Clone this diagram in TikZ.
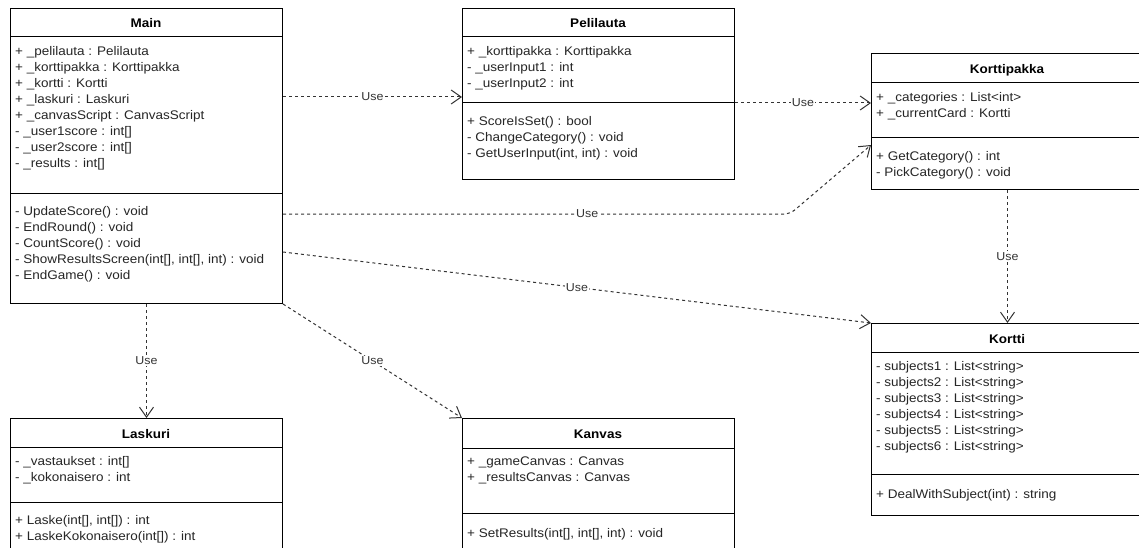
\documentclass[tikz,border=0pt]{standalone}
\usepackage{fontspec}
\setmainfont{Liberation Sans}[FakeStretch=1.08]
\usetikzlibrary{arrows.meta,positioning,calc}

\begin{document}
\begin{tikzpicture}[
    x=1pt, y=-1pt,
    font=\fontsize{12.5pt}{16pt}\selectfont,
    classbox/.style={
        draw,
        line width=1pt,
        fill=white,
        anchor=north west,
        minimum width=272pt,
        inner sep=0pt
    },
    classname/.style={font=\fontsize{12.5pt}{16pt}\selectfont\bfseries, anchor=base, inner sep=0pt},
    members/.style={anchor=north west, yshift=11.2pt, align=left, inner sep=0pt, text=black!85, execute at begin node=\strut},
    sepline/.style={line width=1pt},
    use/.style={draw=black!80, line width=1pt, dash pattern=on 3pt off 3pt, -{Straight Barb[length=10pt, width=14pt]}},
    uselabel/.style={fill=white, inner sep=1pt, font=\fontsize{11.5pt}{13pt}\selectfont, text=black!80}
]

\useasboundingbox (0,0) rectangle (1139,548);
\fill[white] (0,0) rectangle (1139,548);
\clip (0,0) rectangle (1139,548);

% Main
\node[classbox, minimum height=295pt] (main) at (10,8) {};
\node[classname] (mainName) at (146,28) {Main};
\draw[sepline] (10,37) -- (282,37);
\draw[sepline] (10,193) -- (282,193);
\node[members] (mainAttr) at (15,57) {+ \_pelilauta : Pelilauta\\+ \_korttipakka : Korttipakka\\+ \_kortti : Kortti\\+ \_laskuri : Laskuri\\+ \_canvasScript : CanvasScript\\- \_user1score : int[]\\- \_user2score : int[]\\- \_results : int[]};
\node[members] (mainOps) at (15,217) {- UpdateScore() : void\\- EndRound() : void\\- CountScore() : void\\- ShowResultsScreen(int[], int[], int) : void\\- EndGame() : void};

% Pelilauta
\node[classbox, minimum height=171pt] (pelilauta) at (462,8) {};
\node[classname] (pelilautaName) at (598,28) {Pelilauta};
\draw[sepline] (462,37) -- (734,37);
\draw[sepline] (462,103) -- (734,103);
\node[members] (pelilautaAttr) at (467,57) {+ \_korttipakka : Korttipakka\\- \_userInput1 : int\\- \_userInput2 : int};
\node[members] (pelilautaOps) at (467,127) {+ ScoreIsSet() : bool\\- ChangeCategory() : void\\- GetUserInput(int, int) : void};

% Korttipakka
\node[classbox, minimum height=136pt] (korttipakka) at (871,53) {};
\node[classname] (korttipakkaName) at (1007,74) {Korttipakka};
\draw[sepline] (871,83) -- (1143,83);
\draw[sepline] (871,138) -- (1143,138);
\node[members] (korttipakkaAttr) at (876,103) {+ \_categories : List<int>\\+ \_currentCard : Kortti};
\node[members] (korttipakkaOps) at (876,162) {+ GetCategory() : int\\- PickCategory() : void};

% Kortti
\node[classbox, minimum height=192pt] (kortti) at (871,323) {};
\node[classname] (korttiName) at (1007,343) {Kortti};
\draw[sepline] (871,352) -- (1143,352);
\draw[sepline] (871,474) -- (1143,474);
\node[members] (korttiAttr) at (876,372) {- subjects1 : List<string>\\- subjects2 : List<string>\\- subjects3 : List<string>\\- subjects4 : List<string>\\- subjects5 : List<string>\\- subjects6 : List<string>};
\node[members] (korttiOps) at (876,498) {+ DealWithSubject(int) : string};

% Laskuri
\node[classbox, minimum height=150pt] (laskuri) at (10,418) {};
\node[classname] (laskuriName) at (146,438) {Laskuri};
\draw[sepline] (10,447) -- (282,447);
\draw[sepline] (10,502) -- (282,502);
\node[members] (laskuriAttr) at (15,467) {- \_vastaukset : int[]\\- \_kokonaisero : int};
\node[members] (laskuriOps) at (15,526) {+ Laske(int[], int[]) : int\\+ LaskeKokonaisero(int[]) : int};

% Kanvas
\node[classbox, minimum height=150pt] (kanvas) at (462,418) {};
\node[classname] (kanvasName) at (598,438) {Kanvas};
\draw[sepline] (462,448) -- (734,448);
\draw[sepline] (462,513) -- (734,513);
\node[members] (kanvasAttr) at (467,468) {+ \_gameCanvas : Canvas\\+ \_resultsCanvas : Canvas};
\node[members] (kanvasOps) at (467,537) {+ SetResults(int[], int[], int) : void};

% dependencies
\coordinate (bend) at (790,214);
\draw[use] ([yshift=-89pt]main.north east) -- node[uselabel] (use1) {Use} ([yshift=-89pt]pelilauta.north west);
\draw[use] ([yshift=-95pt]pelilauta.north east) -- node[uselabel] (use2) {Use} ([yshift=-50pt]korttipakka.north west);
\draw[use, rounded corners=6pt] ([yshift=-206pt]main.north east) -- node[uselabel, pos=0.6] (use3) {Use} (bend) -- ([yshift=-92pt]korttipakka.north west);
\draw[use] ([yshift=-244pt]main.north east) -- node[uselabel] (use4) {Use} (kortti.north west);
\draw[use] (main.south) -- node[uselabel] (use5) {Use} (laskuri.north);
\draw[use] (main.south east) -- node[uselabel] (use6) {Use} (kanvas.north west);
\draw[use] (korttipakka.south) -- node[uselabel] (use7) {Use} (kortti.north);

\end{tikzpicture}
\end{document}
